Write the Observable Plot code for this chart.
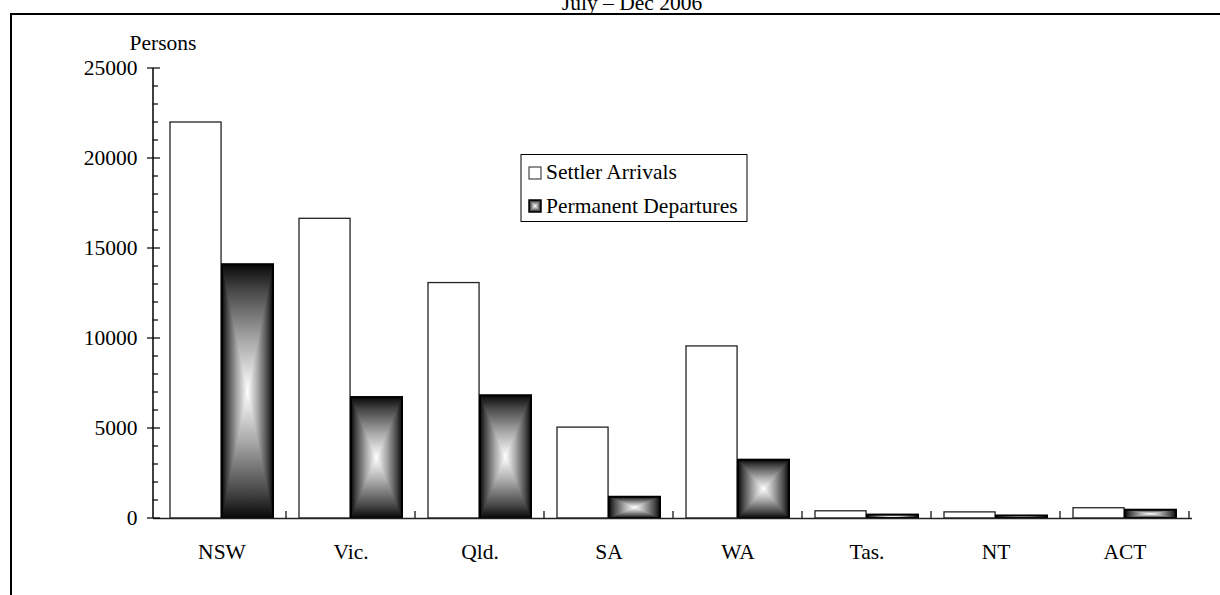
<!DOCTYPE html>
<html><head><meta charset="utf-8">
<script src="https://cdn.jsdelivr.net/npm/d3@7"></script>
<script src="https://cdn.jsdelivr.net/npm/@observablehq/plot@0.6"></script>
<style>
html,body{margin:0;padding:0;background:#fff;overflow:hidden;}
#wrap{position:relative;width:1220px;height:595px;overflow:hidden;font-family:"Liberation Serif","Times New Roman",serif;color:#000;}
#title{position:absolute;left:0;top:-7px;width:1264px;text-align:center;font-size:21.5px;line-height:20px;}
#frame{position:absolute;left:10px;top:13px;width:1300px;height:700px;border-top:2px solid #000;border-left:2px solid #000;box-sizing:border-box;pointer-events:none;}
#chart{position:absolute;left:0;top:0;}
</style></head><body>
<div id="wrap"><div id="title">July – Dec 2006</div><div id="chart"></div><div id="frame"></div></div>
<script>
const states = ["NSW","Vic.","Qld.","SA","WA","Tas.","NT","ACT"];
const settlerArrivals = [22000,16650,13080,5050,9560,400,340,570];
const permanentDepartures = [14100,6720,6820,1180,3240,190,140,460];
const seriesNames = ["Settler Arrivals","Permanent Departures"];
const yMajorTicks = [0,5000,10000,15000,20000,25000];
const yMinorTicks = d3.range(0, 25001, 1000);
const yAxisLabel = "Persons";

const rows = states.map((s, i) => ({state: s, arrivals: settlerArrivals[i], departures: permanentDepartures[i]}));

const W = 1220, H = 595, mL = 153, mR = 28, mT = 68, mB = 77;
const step = (W - mL - mR) / states.length;
const outer = 13;

const chart = Plot.plot({
  width: W, height: H,
  marginLeft: mL, marginRight: mR, marginTop: mT, marginBottom: mB,
  style: {fontFamily: "'Liberation Serif', 'Times New Roman', serif", fontSize: "21.5px", color: "#000", background: "transparent", overflow: "visible"},
  x: {domain: states, padding: 0, label: null, tickSize: 0, tickPadding: 25},
  y: {domain: [0, 25000], ticks: yMajorTicks, tickFormat: d => String(d), tickSize: 0, tickPadding: 16, label: null},
  marks: [
    Plot.barY(rows, {x: "state", y: "arrivals", fill: "white", stroke: "#222", strokeWidth: 1.3, insetLeft: outer, insetRight: step / 2}),
    Plot.barY(rows, {x: "state", y: "departures", fill: "gray", insetLeft: step / 2, insetRight: outer}),
    Plot.barY(rows, {x: "state", y: "departures", fill: "gray", insetLeft: step / 2, insetRight: outer}),
    Plot.barY(rows, {x: "state", y: "departures", fill: "none", stroke: "#000", strokeWidth: 2, insetLeft: step / 2, insetRight: outer}),
    Plot.ruleY([0], {stroke: "#222", strokeWidth: 1.5})
  ]
});
document.getElementById("chart").appendChild(chart);

const svg = d3.select(chart);
const defs = svg.insert("defs", ":first-child");
function grad(id, vertical) {
  const g = defs.append("linearGradient").attr("id", id)
    .attr("x1", 0).attr("y1", 0).attr("x2", vertical ? 0 : 1).attr("y2", vertical ? 1 : 0);
  [[0, "#080808"], [0.1, "#454545"], [0.3, "#a8a8a8"], [0.5, "#ffffff"], [0.7, "#a8a8a8"], [0.9, "#454545"], [1, "#080808"]]
    .forEach(([o, c]) => g.append("stop").attr("offset", o).attr("stop-color", c));
}
grad("gradH", false); grad("gradV", true);
defs.append("clipPath").attr("id", "clipLR").attr("clipPathUnits", "objectBoundingBox")
  .append("path").attr("d", "M0,0L0.5,0.5L0,1ZM1,0L0.5,0.5L1,1Z");

const barGroups = chart.querySelectorAll('g[aria-label="bar"]');
d3.select(barGroups[1]).attr("fill", "url(#gradV)").selectAll("rect").attr("fill", "url(#gradV)");
d3.select(barGroups[2]).attr("fill", "url(#gradH)").selectAll("rect").attr("fill", "url(#gradH)").attr("clip-path", "url(#clipLR)");

const ys = chart.scale("y");
const xs = chart.scale("x");
const y0 = ys.apply(0);
const ax = svg.append("g").attr("stroke", "#000").attr("fill", "none");
ax.append("line").attr("x1", mL).attr("x2", mL).attr("y1", ys.apply(25000)).attr("y2", y0).attr("stroke-width", 1.5);
yMinorTicks.forEach(v => {
  const major = yMajorTicks.includes(v);
  ax.append("line").attr("x1", major ? mL - 6 : mL).attr("x2", mL + (major ? 7 : 5))
    .attr("y1", ys.apply(v)).attr("y2", ys.apply(v)).attr("stroke-width", 1.2);
});
states.forEach((s, i) => {
  const xb = xs.apply(s) + xs.bandwidth;
  ax.append("line").attr("x1", xb).attr("x2", xb).attr("y1", y0).attr("y2", y0 - 7).attr("stroke-width", 1.2);
});
svg.append("text").attr("x", mL + 10).attr("y", ys.apply(25000) - 18).attr("text-anchor", "middle")
  .attr("fill", "#000").text(yAxisLabel);

// legend
const lg = svg.append("g").attr("font-size", 21.5).attr("fill", "#000").attr("text-anchor", "start");
lg.append("rect").attr("x", 521).attr("y", 154.5).attr("width", 226).attr("height", 67)
  .attr("fill", "white").attr("stroke", "#000").attr("stroke-width", 1);
lg.append("rect").attr("x", 529).attr("y", 167).attr("width", 12).attr("height", 12)
  .attr("fill", "white").attr("stroke", "#222").attr("stroke-width", 1);
lg.append("text").attr("x", 546).attr("y", 178.5).attr("text-anchor", "start").text(seriesNames[0]);
lg.append("rect").attr("x", 529).attr("y", 200).attr("width", 12).attr("height", 12).attr("fill", "url(#gradV)");
lg.append("rect").attr("x", 529).attr("y", 200).attr("width", 12).attr("height", 12).attr("fill", "url(#gradH)").attr("clip-path", "url(#clipLR)");
lg.append("rect").attr("x", 529).attr("y", 200).attr("width", 12).attr("height", 12).attr("fill", "none").attr("stroke", "#000").attr("stroke-width", 1.5);
lg.append("text").attr("x", 546).attr("y", 212.5).attr("text-anchor", "start").text(seriesNames[1]);
</script>
</body></html>
